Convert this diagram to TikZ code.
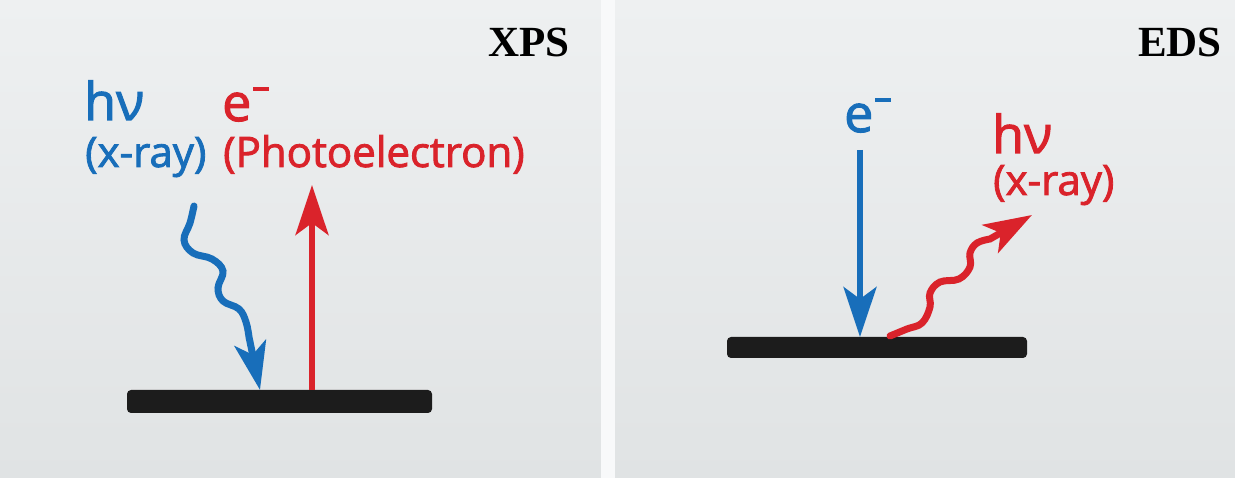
\documentclass[tikz,border=0pt]{standalone}
\usepackage{fontspec}
\setmainfont{Open Sans}[FakeBold=2]
\newfontfamily\titlefont{Liberation Serif}
\usetikzlibrary{arrows.meta}
\definecolor{xblue}{RGB}{24,110,186}
\definecolor{xred}{RGB}{218,35,43}
\definecolor{bgtop}{RGB}{238,240,241}
\definecolor{bgbot}{RGB}{224,227,228}
\definecolor{barcol}{RGB}{28,28,28}
\definecolor{divcol}{RGB}{248,249,250}
\newcommand\elec{e\kern2pt\rule[30pt]{16pt}{4pt}}
\begin{document}
\begin{tikzpicture}[x=1pt,y=-1pt,
  bar/.style={fill=barcol, rounded corners=4pt, inner sep=0pt},
  lbl/.style={anchor=base west, inner sep=0pt, font=\fontsize{42}{42}\selectfont},
  big/.style={anchor=base west, inner sep=0pt, font=\fontsize{52}{52}\selectfont},
  ttl/.style={anchor=base east, inner sep=0pt, font=\titlefont\bfseries\fontsize{43}{43}\selectfont},
  beam/.style={line width=5.5pt, -{Stealth[length=50pt,width=33pt,inset=12pt]}},
  wave/.style={line width=7pt, line cap=round, -{Stealth[length=48pt,width=32pt,inset=12pt]}}]
\useasboundingbox (0,0) rectangle (1235,478);
% backgrounds
\shade[top color=bgtop, bottom color=bgbot] (0,0) rectangle (601,478);
\shade[top color=bgtop, bottom color=bgbot] (615,0) rectangle (1235,478);
\fill[divcol] (601,0) rectangle (615,478);

% ---------- XPS panel ----------
\node[ttl] (xps) at (570,57) {XPS};
\node[bar, minimum width=305pt, minimum height=23pt] (barL) at (279.5,401.5) {};
\node[big, text=xblue] (hvL) at (84,120) {hν};
\node[lbl, text=xblue] (xrayL) at (85,167) {(x-ray)};
\node[big, text=xred] (eL) at (222,121) {\elec};
\node[lbl, text=xred] (photo) at (223,167) {(Photoelectron)};
\coordinate (rS) at (312,390);
\coordinate (rE) at (312,185);
\draw[beam, xred] (rS) -- (rE);
\coordinate (bTip) at (260,390);
\draw[wave, xblue] plot[smooth, tension=0.65] coordinates {(194,206) (190,223) (184,240) (193,253) (212,259) (223,271) (218,288) (223,301) (239,309) (246,322) (249,337)} -- (bTip);

% ---------- EDS panel ----------
\node[ttl] (eds) at (1222,57) {EDS};
\node[bar, minimum width=300pt, minimum height=21pt] (barR) at (877,347.5) {};
\node[big, text=xblue] (eR) at (844,132) {\elec};
\node[big, text=xred] (hvR) at (992,153) {hν};
\node[lbl, text=xred] (xrayR) at (993,195) {(x-ray)};
\coordinate (bS) at (860,150);
\coordinate (bE) at (860,337);
\draw[beam, xblue] (bS) -- (bE);
\coordinate (rTip) at (1032,215);
\draw[wave, xred] plot[smooth, tension=0.65] coordinates {(890,336) (907,329) (922,323) (930,307) (930,293) (940,282) (959,279) (970,267) (970,253) (977,243) (990,239)} -- (rTip);
\end{tikzpicture}
\end{document}
